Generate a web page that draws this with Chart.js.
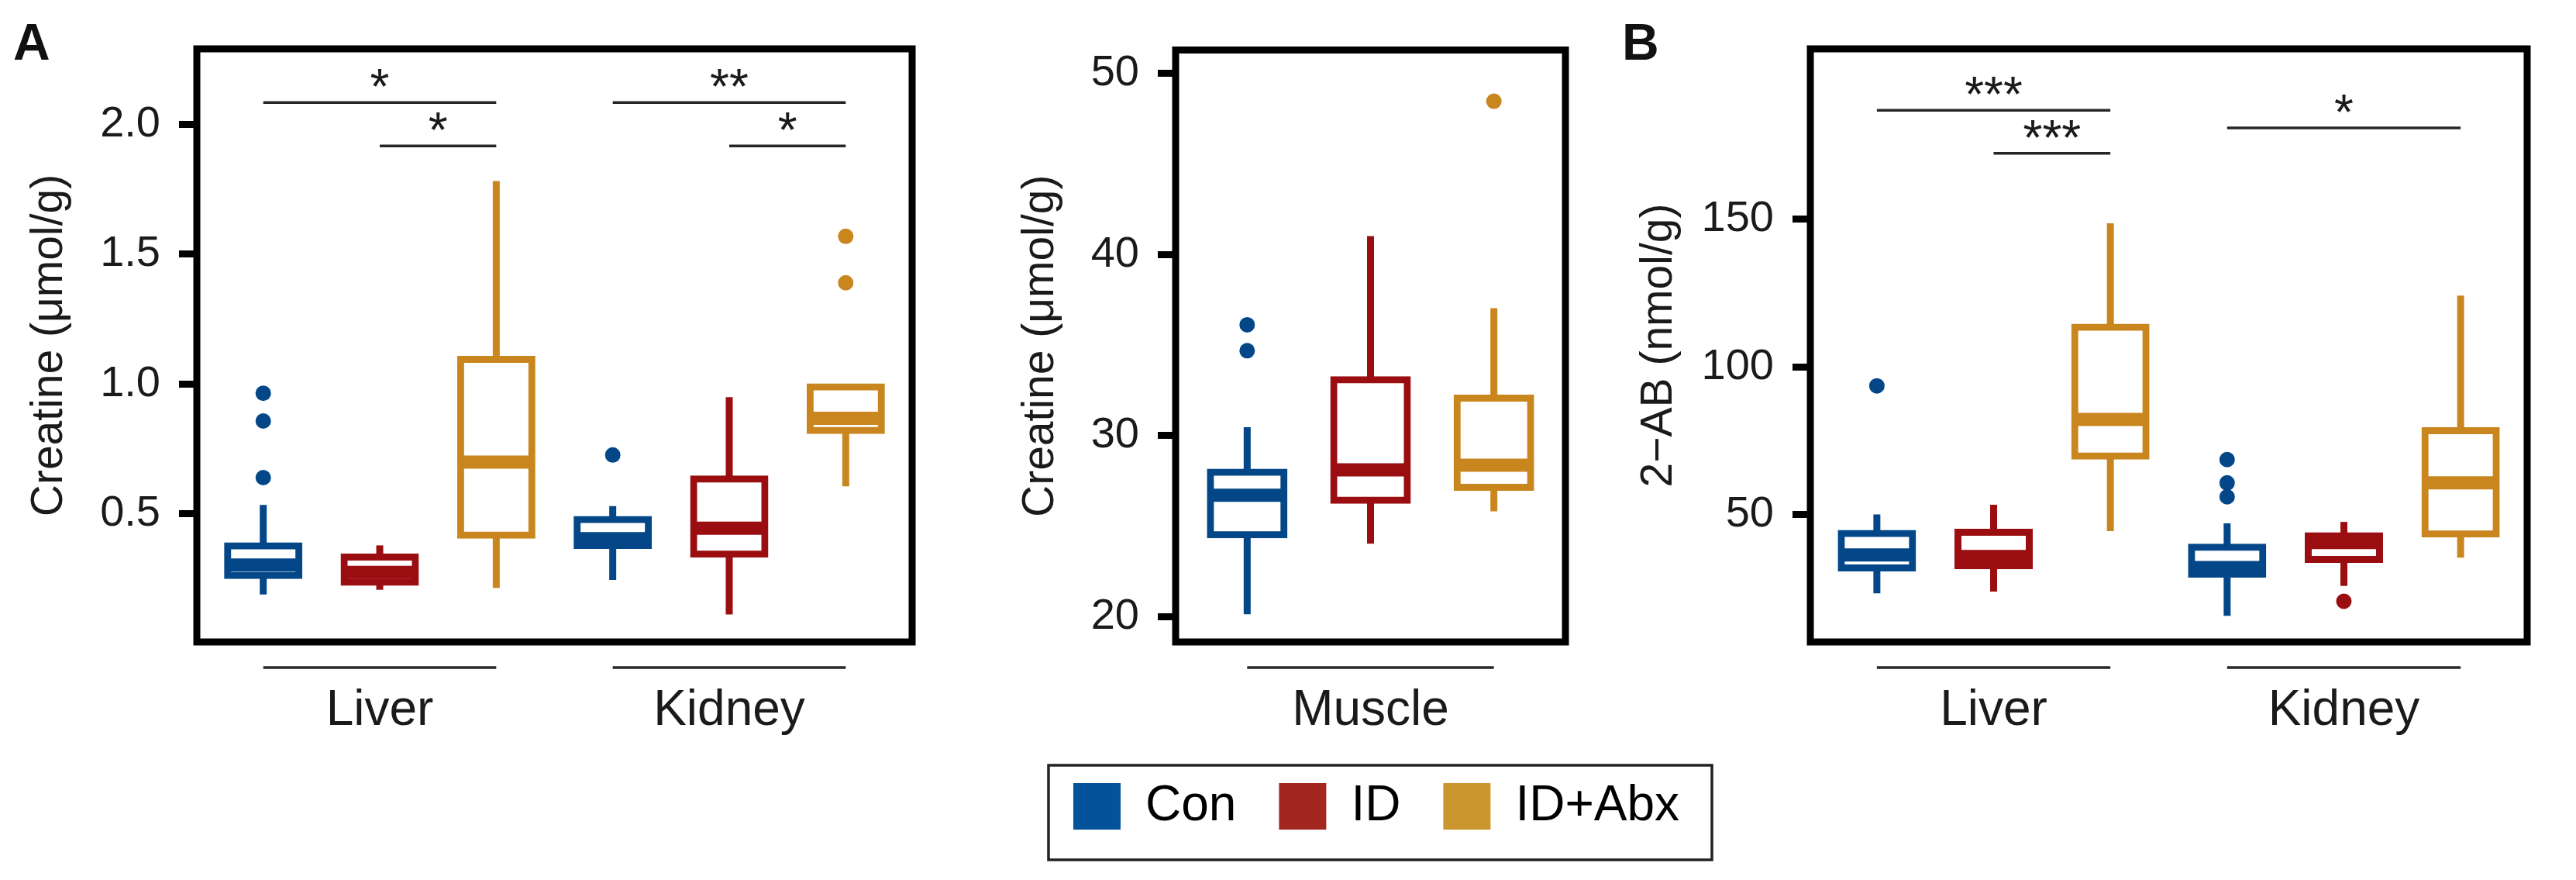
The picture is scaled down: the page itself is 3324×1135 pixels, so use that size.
<!DOCTYPE html>
<html>
<head>
<meta charset="utf-8">
<script src="https://cdn.jsdelivr.net/npm/chart.js@4.4.0/dist/chart.umd.min.js"></script>
<style>
  body { margin: 0; background: #fff; width: 3324px; height: 1135px; position: relative; overflow: hidden;
         font-family: 'Liberation Sans', Arial, sans-serif; }
  canvas { position: absolute; top: 0; }
  .tag { position: absolute; top: 21px; font-weight: bold; font-size: 66px; line-height: 1; color: #111; }
</style>
</head>
<body>
<div class="tag" style="left:17px">A</div>
<div class="tag" style="left:2093px">B</div>
<canvas id="chartA" style="left:0" width="1240" height="1000"></canvas>
<canvas id="chartM" style="left:1276px" width="1000" height="1135"></canvas>
<canvas id="chartB" style="left:2070px" width="1254" height="1000"></canvas>
<script>
const groups = ["Con", "ID", "ID+Abx"];
const boxColors = ["#034788", "#9a0d10", "#c9861e"];
const legendColors = ["#04539a", "#a3271f", "#cc962e"];

// A - creatine, liver + kidney (order: Con, ID, ID+Abx per tissue)
const tissuesA = ["Liver", "Kidney"];
const minA = [0.189, 0.207, 0.214, 0.245, 0.112, 0.605];
const q1A  = [0.262, 0.236, 0.417, 0.378, 0.344, 0.820];
const medA = [0.302, 0.274, 0.699, 0.404, 0.444, 0.867];
const q3A  = [0.376, 0.333, 1.094, 0.478, 0.634, 0.988];
const maxA = [0.534, 0.378, 1.781, 0.529, 0.949, 0.988];
const outA = [[0.964, 0.857, 0.639], [], [], [0.726], [], [1.568, 1.389]];
const sigPairsA = [[0, 2], [1, 2], [3, 5], [4, 5]];
const sigYA = [2.083, 1.916, 2.083, 1.916];
const sigTextA = ["*", "*", "**", "*"];
const yTicksA = [0.5, 1.0, 1.5, 2.0];

// A - creatine, muscle
const tissuesM = ["Muscle"];
const minM = [20.13, 24.03, 25.82];
const q1M  = [24.52, 26.43, 27.14];
const medM = [26.71, 28.11, 28.37];
const q3M  = [27.98, 33.09, 32.07];
const maxM = [30.46, 41.02, 37.04];
const outM = [[36.12, 34.69], [], [48.47]];
const yTicksM = [20, 30, 40, 50];

// B - 2-AB, liver + kidney
const tissuesB = ["Liver", "Kidney"];
const minB = [23.3, 23.9, 44.4, 15.7, 25.8, 35.4];
const q1B  = [31.9, 32.6, 69.8, 29.8, 34.8, 43.4];
const medB = [36.3, 35.8, 82.2, 32.0, 40.5, 60.7];
const q3B  = [43.6, 44.0, 113.5, 38.9, 42.8, 78.4];
const maxB = [50.0, 53.3, 148.7, 47.0, 47.5, 124.2];
const outB = [[93.6], [], [], [68.6, 60.7, 56.0], [20.6], []];
const sigPairsB = [[0, 2], [1, 2], [3, 5]];
const sigYB = [187.0, 172.4, 181.0];
const sigTextB = ["***", "***", "*"];
const yTicksB = [50, 100, 150];

Chart.defaults.font.family = "'Liberation Sans', Arial, Helvetica, sans-serif";
Chart.defaults.color = "#1a1a1a";

function boxDatasets(mins, q1s, meds, q3s, maxs, outs, boxW) {
  const col = c => boxColors[c.dataIndex % 3];
  const pts = [];
  outs.forEach((arr, i) => arr.forEach(v => pts.push({ x: i + 1, y: v })));
  return [
    { type: "bar", order: 4, grouped: false, maxBarThickness: 9, borderWidth: 0,
      data: mins.map((v, i) => ({ x: i + 1, y: [v, maxs[i]] })), backgroundColor: col },
    { type: "bar", order: 3, grouped: false, maxBarThickness: boxW,
      data: q1s.map((v, i) => ({ x: i + 1, y: [v, q3s[i]] })),
      backgroundColor: "#fff", borderColor: col, borderWidth: 9, borderSkipped: false, inflateAmount: 4.5 },
    { type: "scatter", order: 2, data: meds.map((v, i) => ({ x: i + 1, y: v })),
      pointStyle: "line", pointRadius: boxW / 2, pointBorderWidth: 17, pointBorderColor: col },
    { type: "scatter", order: 1, data: pts, pointRadius: 10, pointBorderWidth: 0,
      pointBackgroundColor: c => boxColors[(c.raw.x - 1) % 3] }
  ];
}

function decor(cfg) {
  return {
    id: "decor",
    afterDatasetsDraw(chart) {
      const { ctx, chartArea: a, scales: { x, y } } = chart;
      ctx.save();
      ctx.strokeStyle = "#262626";
      ctx.lineWidth = 3.5;
      cfg.tissues.forEach((t, i) => {
        ctx.beginPath();
        ctx.moveTo(x.getPixelForValue(i * 3 + 1), a.bottom + 33);
        ctx.lineTo(x.getPixelForValue(i * 3 + 3), a.bottom + 33);
        ctx.stroke();
      });
      ctx.fillStyle = "#1a1a1a";
      ctx.font = "64px 'Liberation Sans', Arial, sans-serif";
      ctx.textAlign = "center";
      ctx.textBaseline = "alphabetic";
      (cfg.pairs || []).forEach((p, k) => {
        const x1 = x.getPixelForValue(p[0] + 1), x2 = x.getPixelForValue(p[1] + 1);
        const yy = y.getPixelForValue(cfg.levels[k]);
        ctx.beginPath();
        ctx.moveTo(x1, yy);
        ctx.lineTo(x2, yy);
        ctx.stroke();
        ctx.fillText(cfg.labels[k], (x1 + x2) / 2, yy + 2);
      });
      ctx.strokeStyle = "#000";
      ctx.lineWidth = 9;
      ctx.strokeRect(a.left, a.top, a.width, a.height);
      ctx.restore();
    },
    afterDraw(chart) {
      if (!cfg.legendFrame) return;
      const hb = chart.legend.legendHitBoxes;
      const f = hb[0], l = hb[hb.length - 1];
      const ctx = chart.ctx;
      ctx.save();
      ctx.strokeStyle = "#222";
      ctx.lineWidth = 3.5;
      const left = f.left - 32, right = l.left + l.width + 42;
      ctx.strokeRect(left, f.top - 21, right - left, 122);
      ctx.restore();
    }
  };
}

function makeChart(id, o) {
  const n = o.tissues.length * 3;
  const scales = {
    x: {
      type: "linear", offset: false,
      min: 1 - o.xPad, max: n + o.xPad,
      afterBuildTicks: s => { s.ticks = o.tissues.map((t, i) => ({ value: i * 3 + 2 })); },
      afterFit: s => { s.height = o.xHeight; },
      ticks: { font: { size: 64 }, color: "#1a1a1a", padding: 51, maxRotation: 0, autoSkip: false,
               callback: v => o.tissues[Math.round((v - 2) / 3)] },
      grid: { display: false, drawTicks: false },
      border: { display: false }
    },
    y: {
      min: o.yMin, max: o.yMax,
      afterBuildTicks: s => { s.ticks = o.yTicks.map(v => ({ value: v })); },
      afterFit: s => { s.width = o.yWidth; },
      ticks: { font: { size: 56 }, color: "#1a1a1a", padding: 24,
               callback: o.tickFmt || (v => String(v)) },
      grid: { drawOnChartArea: false, drawTicks: true, tickLength: 23, tickWidth: 9, tickColor: "#000" },
      border: { display: false },
      title: { display: true, text: o.yTitle, font: { size: 57 }, color: "#1a1a1a",
               padding: { top: o.titlePad, bottom: 0 } }
    }
  };
  if (o.rightGap) {
    // empty right-hand axis, only reserves room so the legend can use the full canvas width
    scales.spacer = {
      position: "right", afterFit: s => { s.width = o.rightGap; },
      ticks: { display: false }, grid: { display: false }, border: { display: false }
    };
  }
  return new Chart(document.getElementById(id), {
    type: "bar",
    data: { datasets: boxDatasets(o.mins, o.q1s, o.meds, o.q3s, o.maxs, o.outs, o.boxW) },
    options: {
      responsive: false,
      animation: false,
      events: [],
      layout: { padding: o.padding },
      plugins: {
        tooltip: { enabled: false },
        legend: o.legend || { display: false }
      },
      scales
    },
    plugins: [decor({ tissues: o.tissues, pairs: o.pairs, levels: o.levels, labels: o.labels, legendFrame: !!o.legend })]
  });
}

makeChart("chartA", {
  tissues: tissuesA, mins: minA, q1s: q1A, meds: medA, q3s: q3A, maxs: maxA, outs: outA,
  pairs: sigPairsA, levels: sigYA, labels: sigTextA, yTicks: yTicksA,
  yMin: 0.006, yMax: 2.29, tickFmt: v => v.toFixed(1),
  yTitle: "Creatine (μmol/g)", boxW: 92, xPad: 0.57,
  padding: { top: 56, right: 21, left: 0, bottom: 0 }, yWidth: 254, xHeight: 172, titlePad: 30
});

makeChart("chartM", {
  tissues: tissuesM, mins: minM, q1s: q1M, meds: medM, q3s: q3M, maxs: maxM, outs: outM,
  yTicks: yTicksM, yMin: 18.6, yMax: 51.3,
  yTitle: "Creatine (μmol/g)", boxW: 95, xPad: 0.58,
  padding: { top: 56, right: 0, left: 0, bottom: 53 }, yWidth: 241, xHeight: 125, titlePad: 33,
  rightGap: 256,
  legend: {
    display: true, position: "bottom", onClick: null,
    labels: {
      boxWidth: 61, boxHeight: 60, padding: 55, font: { size: 64 }, color: "#1a1a1a",
      generateLabels: () => groups.map((g, i) => ({
        text: g, fillStyle: legendColors[i], strokeStyle: legendColors[i], lineWidth: 0, hidden: false, index: i
      }))
    }
  }
});

makeChart("chartB", {
  tissues: tissuesB, mins: minB, q1s: q1B, meds: medB, q3s: q3B, maxs: maxB, outs: outB,
  pairs: sigPairsB, levels: sigYB, labels: sigTextB, yTicks: yTicksB,
  yMin: 6.8, yMax: 207.8,
  yTitle: "2\u2212AB (nmol/g)", boxW: 92, xPad: 0.57,
  padding: { top: 56, right: 24, left: 0, bottom: 0 }, yWidth: 266, xHeight: 172, titlePad: 37
});
</script>
</body>
</html>
